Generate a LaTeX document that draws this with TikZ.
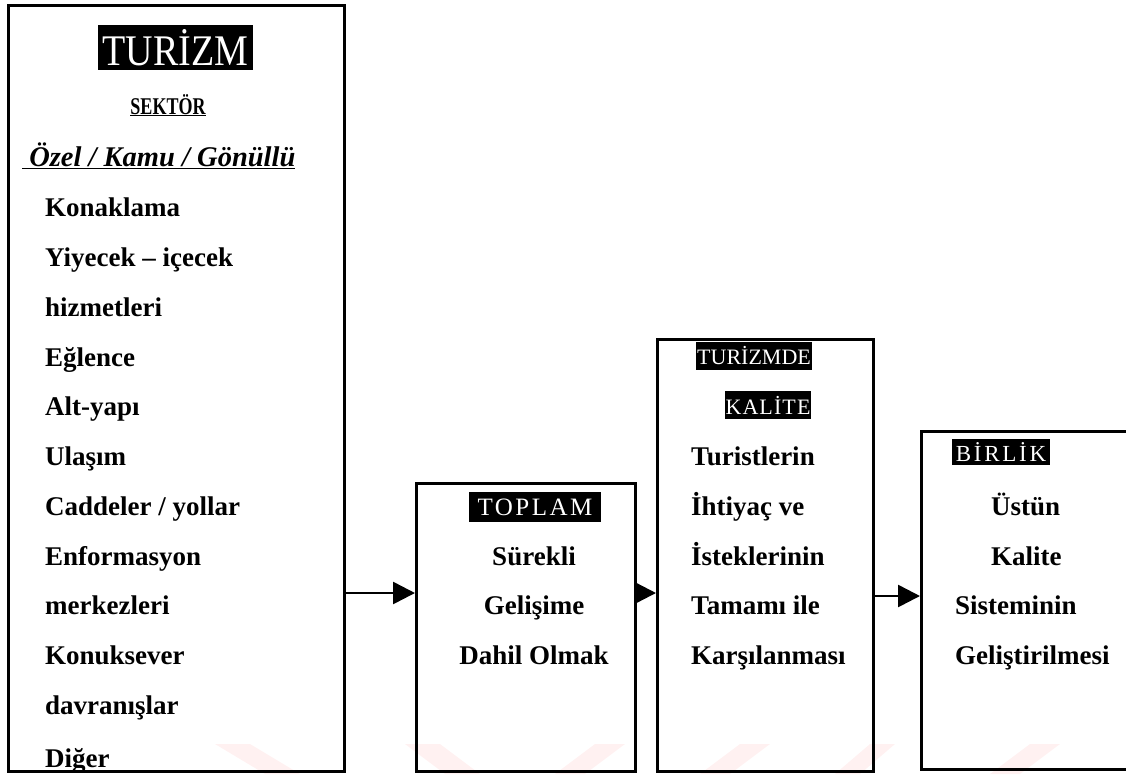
\documentclass[tikz,border=0pt]{standalone}
\usepackage{fontspec}
\setmainfont{Liberation Serif}
\usetikzlibrary{arrows.meta}

% body text and heading labels
\newcommand{\bodyfont}{\fontsize{27}{27}\selectfont\bfseries}
\newcommand{\headfont}[2]{\fontsize{#1}{#1}\selectfont\addfontfeature{LetterSpace=#2}}

\begin{document}
\begin{tikzpicture}[x=1pt,y=-1pt,
  frame/.style={draw=black, line width=2.6pt, fill=none, inner sep=0pt},
  item/.style={anchor=base west, inner sep=0pt, font=\bodyfont},
  citem/.style={anchor=base, inner sep=0pt, font=\bodyfont},
  heading/.style={fill=black, text=white, inner sep=0pt},
  conn/.style={line width=2.6pt, -{Triangle[length=22pt,width=22pt]}},
  wmark/.style={fill=pink!22!white, draw=none}
]
\useasboundingbox (0,0) rectangle (1126,774);

% faint watermark stripes along the bottom edge
\fill[wmark] (215,744) -- (250,744) -- (300,774) -- (265,774) -- cycle;
\fill[wmark] (405,744) -- (440,744) -- (480,774) -- (445,774) -- cycle;
\fill[wmark] (595,744) -- (625,744) -- (585,774) -- (555,774) -- cycle;
\fill[wmark] (740,744) -- (770,744) -- (730,774) -- (700,774) -- cycle;
\fill[wmark] (870,744) -- (895,744) -- (860,774) -- (835,774) -- cycle;
\fill[wmark] (1030,744) -- (1060,744) -- (1020,774) -- (990,774) -- cycle;

% boxes
\node[frame, anchor=north west, minimum width=336pt, minimum height=766pt] (sector) at (7,4) {};
\node[frame, anchor=north west, minimum width=219pt, minimum height=288pt] (total) at (415,482) {};
\node[frame, anchor=north west, minimum width=216pt, minimum height=432pt] (quality) at (656,338) {};
\node[frame, anchor=north west, minimum width=260pt, minimum height=338pt] (unity) at (920,430) {};

% tourism sector box
\node[heading, minimum width=155pt, minimum height=45pt,
      font=\fontsize{38}{38}\selectfont] (h1) at (175.5,47.5) {\scalebox{1}[1.15]{TURİZM}};
\node[anchor=base, inner sep=0pt, font=\fontsize{24}{24}\selectfont\bfseries] (s1) at (168,114) {\underline{\scalebox{0.75}[1]{SEKTÖR}}};
\node[anchor=base west, inner sep=0pt, font=\fontsize{28.5}{28.5}\selectfont\bfseries\itshape] (s2) at (22,166) {\underline{\ Özel / Kamu / Gönüllü}};
\node[item] (i1) at (45,216) {Konaklama};
\node[item] (i2) at (45,266) {Yiyecek – içecek};
\node[item] (i3) at (45,316) {hizmetleri};
\node[item] (i4) at (45,366) {Eğlence};
\node[item] (i5) at (45,415) {Alt-yapı};
\node[item] (i6) at (45,465) {Ulaşım};
\node[item] (i7) at (45,515) {Caddeler / yollar};
\node[item] (i8) at (45,565) {Enformasyon};
\node[item] (i9) at (45,614) {merkezleri};
\node[item] (i10) at (45,664) {Konuksever};
\node[item] (i11) at (45,714) {davranışlar};
\node[item] (i12) at (45,767) {Diğer};

% total box
\node[heading, minimum width=132pt, minimum height=30pt, font=\headfont{25}{10}] (h2) at (535,507) {TOPLAM};
\node[citem] (t1) at (534,565) {Sürekli};
\node[citem] (t2) at (534,614) {Gelişime};
\node[citem] (t3) at (534,664) {Dahil Olmak};

% quality box
\node[heading, minimum width=116pt, minimum height=28pt, font=\headfont{22}{0}] (h3) at (754,356) {TURİZMDE};
\node[heading, minimum width=86pt, minimum height=28pt, font=\headfont{22}{5}] (h4) at (768,405) {KALİTE};
\node[item] (q1) at (691,465) {Turistlerin};
\node[item] (q2) at (691,515) {İhtiyaç ve};
\node[item] (q3) at (691,565) {İsteklerinin};
\node[item] (q4) at (691,614) {Tamamı ile};
\node[item] (q5) at (691,664) {Karşılanması};

% unity box
\node[heading, minimum width=98pt, minimum height=26pt, font=\headfont{23}{12}] (h5) at (1001,452) {BİRLİK};
\node[item] (u1) at (991,515) {Üstün};
\node[item] (u2) at (991,565) {Kalite};
\node[item] (u3) at (955,614) {Sisteminin};
\node[item] (u4) at (955,664) {Geliştirilmesi};

% connectors
\coordinate (r1) at (0,593);
\coordinate (r2) at (0,596);
\draw[conn] (sector.east |- r1) -- (total.west |- r1);
\draw[conn] (total.east |- r1) -- (quality.west |- r1);
\draw[conn] (quality.east |- r2) -- (unity.west |- r2);
\end{tikzpicture}
\end{document}
